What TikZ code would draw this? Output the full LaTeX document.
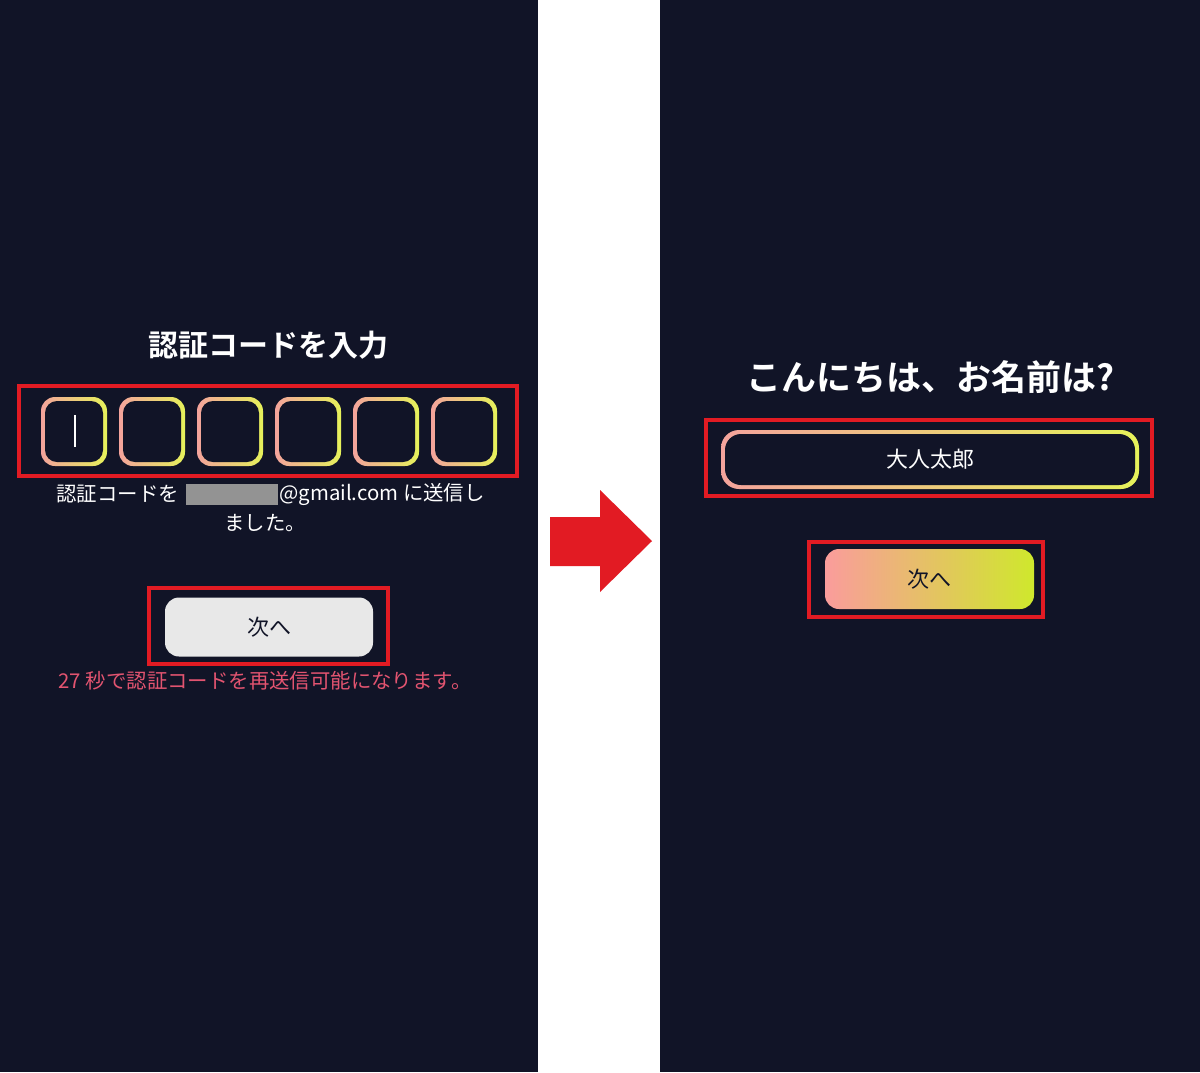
\documentclass[tikz,border=0pt]{standalone}
\usepackage{fontspec}
\setmainfont{Noto Sans CJK JP}
\newfontfamily\jpb{Noto Sans CJK JP Bold}
\definecolor{bg}{HTML}{111427}
\definecolor{redf}{HTML}{E21B23}
\definecolor{pk}{HTML}{F4A39C}
\definecolor{yl}{HTML}{E6F25A}
\definecolor{btnpk}{HTML}{FA9C9C}
\definecolor{btnyl}{HTML}{CFE82C}
\definecolor{warn}{HTML}{E25470}
\tikzset{
 redbox/.style={draw=redf,line width=2pt},
 wtxt/.style={text=white,font=\fontsize{10.2}{12}\selectfont,inner sep=0},
 ttl/.style={text=white,font=\jpb\fontsize{15}{17}\selectfont,inner sep=0},
}
\begin{document}
\begin{tikzpicture}[x=0.5pt,y=-0.5pt]
\useasboundingbox (0,0) rectangle (1200,1072);
\fill[white] (0,0) rectangle (1200,1072);
\fill[bg] (0,0) rectangle (538,1072);
\fill[bg] (660,0) rectangle (1200,1072);
% left
\node[ttl] (t1) at (268,345) {認証コードを入力};
\foreach \i/\x in {1/74,2/152,3/230,4/308,5/386,6/464}{
 \shade[rounded corners=7pt,left color=pk,right color=yl] (\x-33,397) rectangle (\x+33,466);
 \fill[bg,rounded corners=6pt] (\x-29,401) rectangle (\x+29,462);
 \coordinate (c\i) at (\x,431);
}
\draw[white,line width=1.2pt] (75,415) -- (75,447);
\node[redbox,minimum width=249pt,minimum height=45pt,inner sep=0] (r1) at (268,431) {};
\node[wtxt,anchor=west] (m1) at (56,494) {認証コードを};
\fill[gray!85] (186,484) rectangle (278,505);
\node[wtxt,anchor=west] (m2) at (279,494) {@gmail.com に送信し};
\node[wtxt] (m3) at (265,523) {ました。};
\node[fill=gray!18,rounded corners=7pt,minimum width=104pt,minimum height=29.5pt,inner sep=0] (b1) at (269,627) {};
\node[text=bg,font=\fontsize{11}{13}\selectfont] at (b1) {次へ};
\node[redbox,minimum width=119.5pt,minimum height=38pt,inner sep=0] (r2) at (268.5,626) {};
\node[text=warn,font=\fontsize{10.2}{12}\selectfont,inner sep=0] (w1) at (265,681) {27 秒で認証コードを再送信可能になります。};
% arrow
\fill[redf] (550,517) -- (600,517) -- (600,490) -- (652,541) -- (600,592) -- (600,566) -- (550,566) -- cycle;
% right
\node[ttl,font=\jpb\fontsize{17.5}{19}\selectfont] (t2) at (930,377) {こんにちは、お名前は?};
\shade[rounded corners=9pt,left color=pk,right color=yl] (721,430) rectangle (1139,489);
\fill[bg,rounded corners=8pt] (725,434) rectangle (1135,485);
\node[wtxt,font=\fontsize{11}{13}\selectfont] (n1) at (930,459) {大人太郎};
\node[redbox,minimum width=223pt,minimum height=38pt,inner sep=0] (r3) at (929,458) {};
\shade[rounded corners=7pt,left color=btnpk,right color=btnyl] (825,549) rectangle (1034,609);
\node[text=bg,font=\fontsize{11}{13}\selectfont] (b2) at (929,579) {次へ};
\node[redbox,minimum width=117pt,minimum height=37.5pt,inner sep=0] (r4) at (926,579) {};
\end{tikzpicture}
\end{document}
